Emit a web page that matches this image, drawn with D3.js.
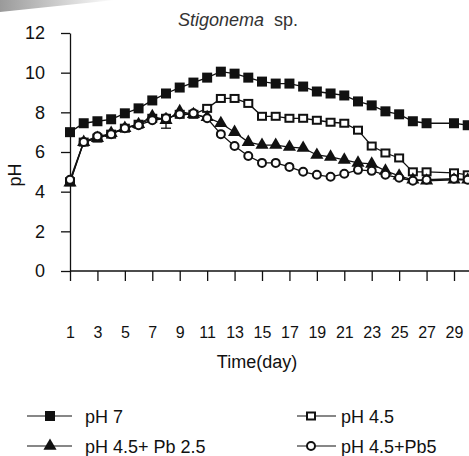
<!DOCTYPE html>
<meta charset="utf-8">
<script src="https://d3js.org/d3.v7.min.js"></script>
<style type="text/css">
  body { margin: 0; background: #fff; }
  text { font-family: "Liberation Sans", Arial, sans-serif; fill: #111; }
  .line { fill: none; stroke: #111; stroke-width: 1.3; }
</style>
<body>
<script>

// days on the x axis
var days = [1, 2, 3, 4, 5, 6, 7, 8, 9, 10, 11, 12, 13, 14, 15, 16, 17, 18, 19, 20,
            21, 22, 23, 24, 25, 26, 27, 28, 29, 30];
var dayTicks = [1, 3, 5, 7, 9, 11, 13, 15, 17, 19, 21, 23, 25, 27, 29];
var phTicks = [0, 2, 4, 6, 8, 10, 12];

// pH readings per day (null = no reading)
var ph7 = [7.0, 7.45, 7.55, 7.65, 7.95, 8.2, 8.6, 8.95, 9.25, 9.5,
           9.75, 10.05, 9.95, 9.75, 9.55, 9.45, 9.45, 9.3, 9.05, 8.95,
           8.85, 8.55, 8.35, 8.05, 7.9, 7.55, 7.45, null, 7.45, 7.35];
var ph45 = [4.5, 6.5, 6.7, 6.9, 7.2, 7.4, 7.7, 7.7, 7.9, 7.9,
            8.2, 8.7, 8.7, 8.45, 7.8, 7.8, 7.7, 7.7, 7.6, 7.5,
            7.45, 7.1, 6.3, 5.95, 5.7, 5.0, 5.0, null, 4.95, 4.85];
var ph45pb25 = [4.45, 6.5, 6.7, 6.95, 7.2, 7.4, 7.8, 7.6, 8.05, 7.9,
                7.75, 7.45, 7.0, 6.5, 6.35, 6.35, 6.25, 6.2, 5.85, 5.75,
                5.6, 5.45, 5.4, 5.05, 4.8, 4.6, 4.55, null, 4.6, 4.6];
var ph45pb25Err = [0, 0, 0, 0, 0, 0, 0, 0.4, 0, 0,
                   0, 0, 0, 0, 0, 0, 0, 0, 0, 0,
                   0, 0, 0, 0, 0, 0, 0, 0, 0, 0];
var ph45pb5 = [4.6, 6.5, 6.8, 6.9, 7.2, 7.35, 7.6, 7.7, 7.9, 7.95,
               7.7, 6.9, 6.3, 5.8, 5.45, 5.45, 5.25, 5.0, 4.85, 4.75,
               4.9, 5.1, 5.05, 4.85, 4.7, 4.55, 4.6, null, 4.65, 4.6];

var seriesNames = ["pH 7", "pH 4.5", "pH 4.5+ Pb 2.5", "pH 4.5+Pb5"];

var svg = d3.select("body").append("svg")
    .attr("width", 469)
    .attr("height", 456);

// faint scan shading in the top left corner
var grad = svg.append("defs").append("linearGradient")
    .attr("id", "scan").attr("x1", 0).attr("x2", 1).attr("y1", 0).attr("y2", 0);
grad.append("stop").attr("offset", 0).attr("stop-color", "#9a9a9a");
grad.append("stop").attr("offset", 1).attr("stop-color", "#fff");
svg.append("path")
    .attr("d", "M0,0 L115,0 L0,12 Z")
    .style("fill", "url(#scan)");

// scales
var xScale = d3.scaleLinear().domain([1, 29]).range([70, 454]);
var yScale = d3.scaleLinear().domain([0, 12]).range([271, 33]);

// y axis
var yAxis = d3.axisLeft(yScale)
    .tickValues(phTicks)
    .tickSizeInner(9)
    .tickSizeOuter(0)
    .tickPadding(16);

var yG = svg.append("g")
    .attr("transform", "translate(" + xScale(1) + ",0)")
    .call(yAxis);
yG.selectAll("text").style("font-size", "18px").style("font-family", "Liberation Sans, Arial");
yG.selectAll("line, path").style("stroke", "#111").style("stroke-width", 1.3);

// x axis, labels sit far below the ticks
var xAxis = d3.axisBottom(xScale)
    .tickValues(dayTicks)
    .tickSizeInner(10)
    .tickSizeOuter(0)
    .tickPadding(46);

var xG = svg.append("g")
    .attr("transform", "translate(0," + yScale(0) + ")")
    .call(xAxis);
xG.select(".domain").remove();
xG.append("line")
    .attr("x1", xScale(1)).attr("x2", xScale(30.1))
    .style("stroke", "#111").style("stroke-width", 1.3);
xG.selectAll("text").style("font-size", "16px").style("font-family", "Liberation Sans, Arial");
xG.selectAll("line").style("stroke", "#111").style("stroke-width", 1.3);

// axis titles
svg.append("text")
    .attr("x", 257)
    .attr("y", 368)
    .style("text-anchor", "middle")
    .style("font-size", "18px")
    .text("Time(day)");

svg.append("text")
    .attr("transform", "translate(21,175) rotate(-90)")
    .style("text-anchor", "middle")
    .style("font-size", "18px")
    .text("pH");

// title
var title = svg.append("text")
    .attr("x", 178)
    .attr("y", 26)
    .style("font-size", "18px")
    .style("fill", "#333");
title.append("tspan").style("font-style", "italic").style("fill", "#333").text("Stigonema");
title.append("tspan").style("fill", "#333").text("\u00a0 sp.");

// markers
function drawMarker(g, type, size) {
    var s = size;
    if (type === "fsquare") {
        g.append("rect").attr("x", -s / 2).attr("y", -s / 2).attr("width", s).attr("height", s)
            .style("fill", "#111");
    } else if (type === "osquare") {
        g.append("rect").attr("x", -s / 2 + 1).attr("y", -s / 2 + 1.5).attr("width", s - 2).attr("height", s - 3)
            .style("fill", "#fff").style("stroke", "#111").style("stroke-width", 2);
    } else if (type === "triangle") {
        g.append("path")
            .attr("d", d3.symbol().type(d3.symbolTriangle).size(s * s * 0.75))
            .style("fill", "#111");
    } else {
        g.append("circle").attr("r", s / 2 - 1)
            .style("fill", "#fff").style("stroke", "#111").style("stroke-width", 2);
    }
}

var seriesList = [
    {name: seriesNames[0], values: ph7, marker: "fsquare", err: null},
    {name: seriesNames[1], values: ph45, marker: "osquare", err: null},
    {name: seriesNames[2], values: ph45pb25, marker: "triangle", err: ph45pb25Err},
    {name: seriesNames[3], values: ph45pb5, marker: "circle", err: null}
];

var line = d3.line()
    .x(d => xScale(d.day))
    .y(d => yScale(d.v));

seriesList.forEach(function(s) {
    var pts = days.map((d, i) => ({day: d, v: s.values[i], e: s.err ? s.err[i] : 0}))
        .filter(d => d.v !== null);

    var g = svg.append("g").attr("class", "series");

    g.append("path")
        .attr("class", "line")
        .attr("d", line(pts));

    // error bars
    pts.filter(d => d.e > 0).forEach(function(d) {
        g.append("line")
            .attr("x1", xScale(d.day)).attr("x2", xScale(d.day))
            .attr("y1", yScale(d.v - d.e)).attr("y2", yScale(d.v + d.e))
            .style("stroke", "#111").style("stroke-width", 1.3);
        g.append("line")
            .attr("x1", xScale(d.day) - 5).attr("x2", xScale(d.day) + 5)
            .attr("y1", yScale(d.v - d.e)).attr("y2", yScale(d.v - d.e))
            .style("stroke", "#111").style("stroke-width", 1.3);
    });

    g.selectAll(".pt")
        .data(pts)
        .enter()
        .append("g")
            .attr("class", "pt")
            .attr("transform", d => "translate(" + xScale(d.day) + "," + yScale(d.v) + ")")
            .each(function() { drawMarker(d3.select(this), s.marker, 10); });
});

// legend
var legendPos = [
    {x: 27, y: 416, lx2: 72, mx: 50, tx: 85},
    {x: 297, y: 416, lx2: 336, mx: 311, tx: 341},
    {x: 27, y: 446, lx2: 72, mx: 50, tx: 85},
    {x: 297, y: 446, lx2: 336, mx: 311, tx: 341}
];

seriesList.forEach(function(s, i) {
    var p = legendPos[i];
    var lg = svg.append("g").attr("class", "legend");
    lg.append("line")
        .attr("x1", p.x).attr("x2", p.lx2)
        .attr("y1", p.y).attr("y2", p.y)
        .style("stroke", "#111").style("stroke-width", 1.2);
    var m = lg.append("g").attr("transform", "translate(" + p.mx + "," + p.y + ")");
    drawMarker(m, s.marker, 10);
    lg.append("text")
        .attr("x", p.tx)
        .attr("y", p.y + 7)
        .style("font-size", "18px")
        .text(s.name);
});

</script>
</body>
</html>
